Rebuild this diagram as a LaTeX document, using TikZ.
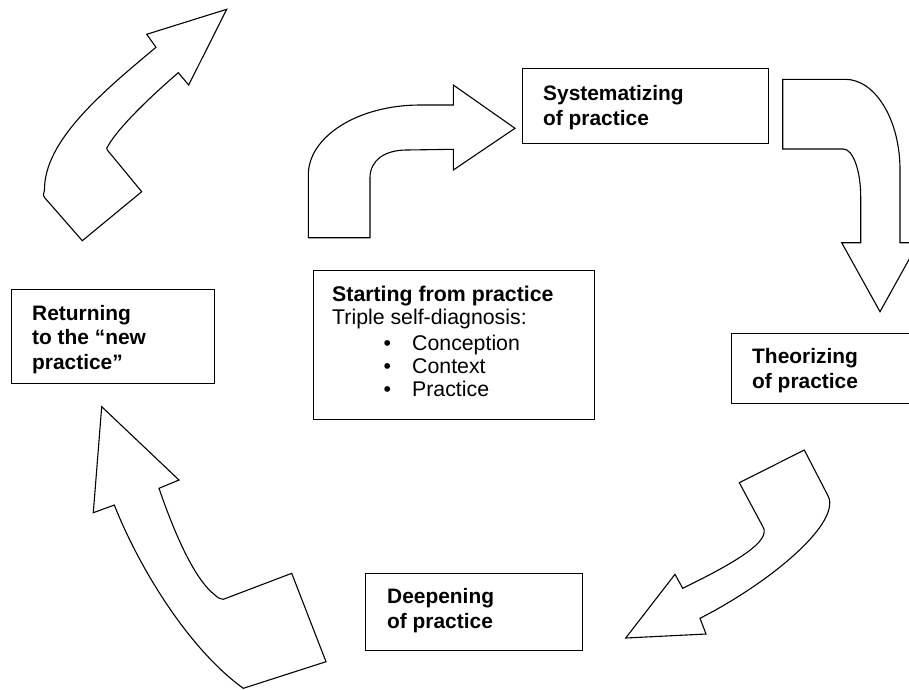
\documentclass[tikz,border=0pt]{standalone}
\usepackage{fontspec}
\setmainfont{Liberation Sans}
\newcommand{\stageitem}{\makebox[80pt][l]{\hspace{51.4pt}\textbullet}}
\tikzset{
	stage/.style={draw=black,line width=1.3pt,fill=white,inner sep=0pt,anchor=north west},
	stagetxt/.style={align=left,inner sep=0pt,anchor=base west,font=\fontsize{20.9}{24.5}\selectfont\bfseries},
	bigarrow/.style={draw=black,line width=1.1pt,fill=white,line join=miter},
}
\begin{document}
\begin{tikzpicture}[x=1pt,y=-1pt]
\useasboundingbox (0,0) rectangle (909,689);
%ARROWS
% top left
\draw[bigarrow] (82.3,240.7) -- (46.7,200) .. controls (43,196) .. (44.5,190)
	.. controls (44,140) and (105,90) .. (156,47.3) -- (146.7,34.3) -- (226.7,9.3)
	-- (188.7,85) -- (178.3,72.7) .. controls (150,97) and (118,128) .. (108,146)
	.. controls (106.5,148) .. (107.3,150) -- (141.7,191.7) -- cycle;
% top middle
\draw[bigarrow] (308.3,237.7) -- (308.3,175) .. controls (308.3,136.4) and (358.2,105) .. (420,105)
	-- (453.3,105) -- (453.3,85) -- (515,128.3) -- (453.3,170) -- (453.3,149.3) -- (406.7,150)
	.. controls (385,150) and (370,160) .. (370,178) -- (370,237.7) -- cycle;
% top right
\draw[bigarrow] (782.7,79.3) -- (845,79.3) .. controls (875.4,79.3) and (900,119.9) .. (900,170)
	-- (900,242.7) -- (918.3,242.7) -- (880,311.7) -- (841.7,242.7) -- (860.7,242.7) -- (860.7,196.7)
	.. controls (860.7,170.4) and (852.9,149) .. (843.3,149) -- (782.7,149) -- cycle;
% bottom right
\draw[bigarrow] (739.3,482.7) -- (804.3,450) -- (826.7,493.3) .. controls (830,500) .. (829.5,506)
	.. controls (826,535) and (765,585) .. (700,618.3) -- (706,634) -- (625.7,638) -- (675,574.3)
	-- (682.7,588.3) .. controls (720,570) and (762,548) .. (764,533) .. controls (764.5,530) .. (762.5,526)
	-- cycle;
% bottom left
\draw[bigarrow] (101.7,406.7) -- (179,480) -- (159,488.3) .. controls (175,535) and (195,580) .. (215,595)
	.. controls (218,598) .. (223.3,599.3) -- (291.7,573.3) -- (326,661.7) -- (243.3,688.3)
	.. controls (190,650) and (140,570) .. (114.3,505) -- (93.3,512.7) -- cycle;
%BOXES
\node[stage,minimum width=246pt,minimum height=75pt] (sys) at (522,68) {};
\node[stage,minimum width=190pt,minimum height=70pt] (theo) at (731,333) {};
\node[stage,minimum width=217pt,minimum height=77pt] (deep) at (365,573) {};
\node[stage,minimum width=203pt,minimum height=94pt] (ret) at (11,289) {};
\node[stage,minimum width=281pt,minimum height=149pt] (start) at (313,270) {};
%TEXTS (base = last line)
\node[stagetxt] (systxt) at (543,125) {Systematizing\\of practice};
\node[stagetxt] (theotxt) at (752,388) {Theorizing\\of practice};
\node[stagetxt] (deeptxt) at (387,628) {Deepening\\of practice};
\node[stagetxt] (rettxt) at (32,369) {Returning\\to the “new\\practice”};
\node[stagetxt,font=\fontsize{21.3}{23}\selectfont] (starttxt) at (332,396.7)
	{\textbf{Starting from practice}\\Triple self-diagnosis:\\[3.7pt]
	\stageitem Conception\\\stageitem Context\\\stageitem Practice};
\end{tikzpicture}
\end{document}
